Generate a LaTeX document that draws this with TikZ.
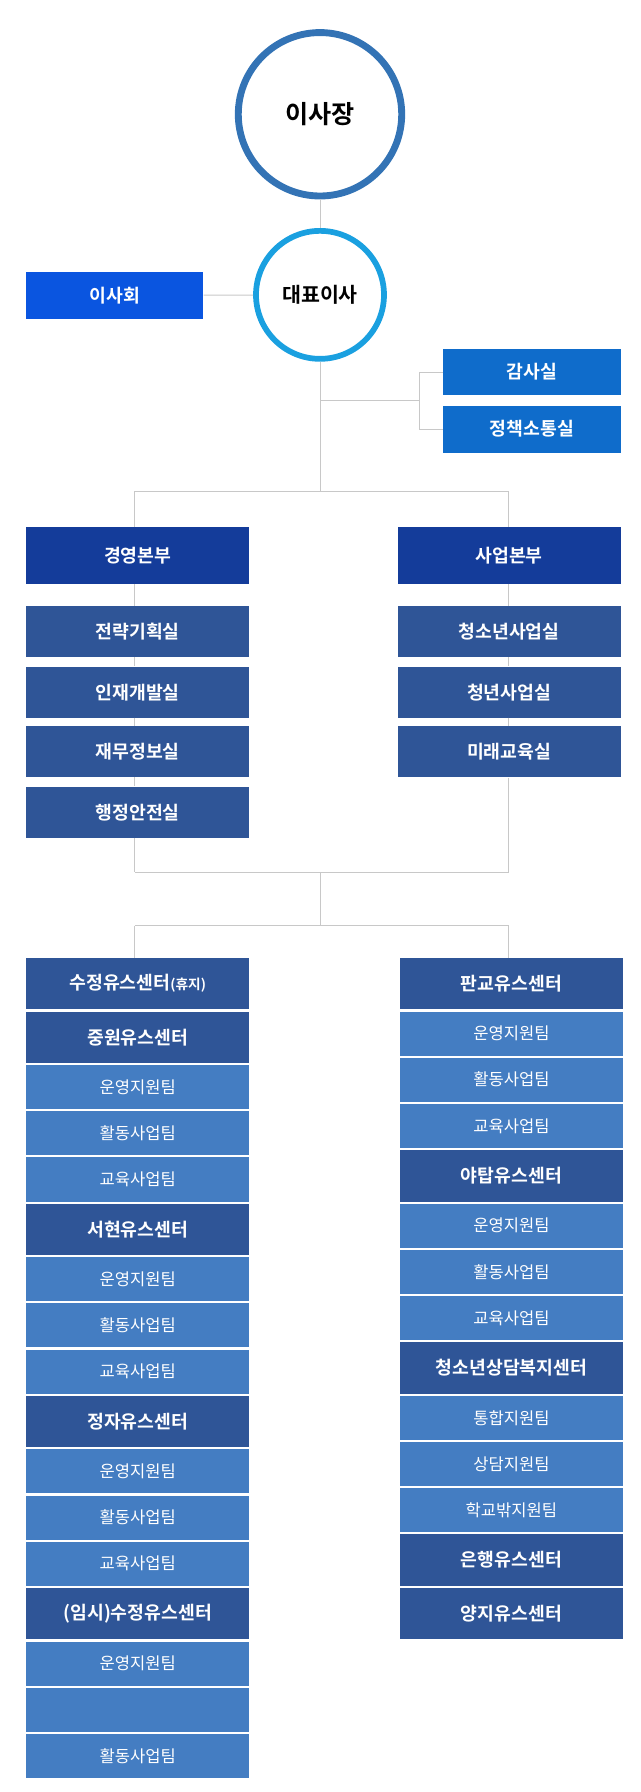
\documentclass[tikz,border=0pt]{standalone}
\usepackage{fontspec}
\setmainfont{Noto Sans CJK KR}[BoldFont={* Bold}]
\usetikzlibrary{positioning}
\definecolor{cTop}{HTML}{3373B5}
\definecolor{cCeo}{HTML}{1AA0E0}
\definecolor{cBoard}{HTML}{0A55E0}
\definecolor{cAudit}{HTML}{0F6CCB}
\definecolor{cDiv}{HTML}{143C9A}
\definecolor{cDark}{HTML}{2F5597}
\definecolor{cLight}{HTML}{447DC2}
\definecolor{cLine}{HTML}{C8C8C8}
\tikzset{
 box/.style={fill=#1,text=white,font=\bfseries\fontsize{16}{18}\selectfont,minimum width=195pt,inner sep=0pt,anchor=north},
 dk/.style={box=cDark,minimum height=45pt},
 lt/.style={box=cLight,minimum height=38.5pt,font=\fontsize{14.5}{17}\selectfont},
 ln/.style={cLine,line width=0.8pt},
 node distance=1.5pt
}
\begin{document}
\begin{tikzpicture}[x=1pt,y=-1pt]
\useasboundingbox (0,0) rectangle (560,1568);
\node[circle,draw=cTop,line width=6pt,minimum size=143pt,font=\bfseries\fontsize{22}{24}\selectfont] (chair) at (280,100) {이사장};
\node[circle,draw=cCeo,line width=5pt,minimum size=112pt,font=\bfseries\fontsize{18}{20}\selectfont] (ceo) at (280,258) {대표이사};
\node[box=cBoard,minimum width=155pt,minimum height=41pt,anchor=center] (board) at (100.5,258.5) {이사회};
\node[box=cAudit,minimum width=155pt,minimum height=41pt,anchor=center] (audit) at (465.5,325.5) {감사실};
\node[box=cAudit,minimum width=155pt,minimum height=41pt,anchor=center] (policy) at (465.5,375.5) {정책소통실};
\draw[ln] (chair) -- (ceo);
\draw[ln] (board) -- (ceo);
\coordinate (j1) at (280,350); \coordinate (j2) at (367,350);
\coordinate (h1) at (280,430);
\draw[ln] (ceo) -- (h1);
\draw[ln] (j1) -- (j2);
\draw[ln] (audit.west) -| (j2) |- (policy.west);
% divisions
\node[box=cDiv,minimum height=50pt] (mgmt) at (120.5,461) {경영본부};
\node[box=cDiv,minimum height=50pt] (biz) at (445.5,461) {사업본부};
\coordinate (h1l) at (118,430); \coordinate (h1r) at (445,430);
\draw[ln] (h1l) -- (h1r);
\draw[ln] (h1l) -- (118,461);
\draw[ln] (h1r) -- (445,461);
\tikzset{sub/.style={box=cDark,minimum height=45pt}}
\node[sub] (m1) at (120.5,530) {전략기획실};
\node[sub] (m2) at (120.5,583) {인재개발실};
\node[sub] (m3) at (120.5,635) {재무정보실};
\node[sub] (m4) at (120.5,688) {행정안전실};
\node[sub] (b1) at (445.5,530) {청소년사업실};
\node[sub] (b2) at (445.5,583) {청년사업실};
\node[sub] (b3) at (445.5,635) {미래교육실};
\coordinate (h2l) at (118,763); \coordinate (h2r) at (445,763); \coordinate (h2m) at (280,763);
\coordinate (h3l) at (118,810); \coordinate (h3r) at (445,810); \coordinate (h3m) at (280,810);
\begin{scope}[on background layer/.style={}]
\draw[ln] (118,511) -- (118,530) (118,575) -- (118,583) (118,628) -- (118,635) (118,680) -- (118,688) (m4.south -| h2l) -- (h2l);
\draw[ln] (445,511) -- (445,530) (445,575) -- (445,583) (445,628) -- (445,635) (b3.south -| h2r) -- (h2r);
\end{scope}
\draw[ln] (h2l) -- (h2r);
\draw[ln] (h2m) -- (h3m);
\draw[ln] (h3l) -- (h3r);
\draw[ln] (h3l) -- (118,838);
\draw[ln] (h3r) -- (445,838);
% left column
\node[dk] (l1) at (120.5,838) {수정유스센터\fontsize{12}{14}\selectfont(휴지)};
\node[dk,below=of l1] (l2) {중원유스센터};
\node[lt,below=of l2] (l3) {운영지원팀};
\node[lt,below=of l3] (l4) {활동사업팀};
\node[lt,below=of l4] (l5) {교육사업팀};
\node[dk,below=of l5] (l6) {서현유스센터};
\node[lt,below=of l6] (l7) {운영지원팀};
\node[lt,below=of l7] (l8) {활동사업팀};
\node[lt,below=of l8] (l9) {교육사업팀};
\node[dk,below=of l9] (l10) {정자유스센터};
\node[lt,below=of l10] (l11) {운영지원팀};
\node[lt,below=of l11] (l12) {활동사업팀};
\node[lt,below=of l12] (l13) {교육사업팀};
\node[dk,below=of l13] (l14) {(임시)수정유스센터};
\node[lt,below=of l14] (l15) {운영지원팀};
\node[lt,below=of l15] (l16) {};
\node[lt,below=of l16] (l17) {활동사업팀};
% right column
\node[dk] (r1) at (447.5,838) {판교유스센터};
\node[lt,below=of r1] (r2) {운영지원팀};
\node[lt,below=of r2] (r3) {활동사업팀};
\node[lt,below=of r3] (r4) {교육사업팀};
\node[dk,below=of r4] (r5) {야탑유스센터};
\node[lt,below=of r5] (r6) {운영지원팀};
\node[lt,below=of r6] (r7) {활동사업팀};
\node[lt,below=of r7] (r8) {교육사업팀};
\node[dk,below=of r8] (r9) {청소년상담복지센터};
\node[lt,below=of r9] (r10) {통합지원팀};
\node[lt,below=of r10] (r11) {상담지원팀};
\node[lt,below=of r11] (r12) {학교밖지원팀};
\node[dk,below=of r12] (r13) {은행유스센터};
\node[dk,below=of r13] (r14) {양지유스센터};
\end{tikzpicture}
\end{document}
